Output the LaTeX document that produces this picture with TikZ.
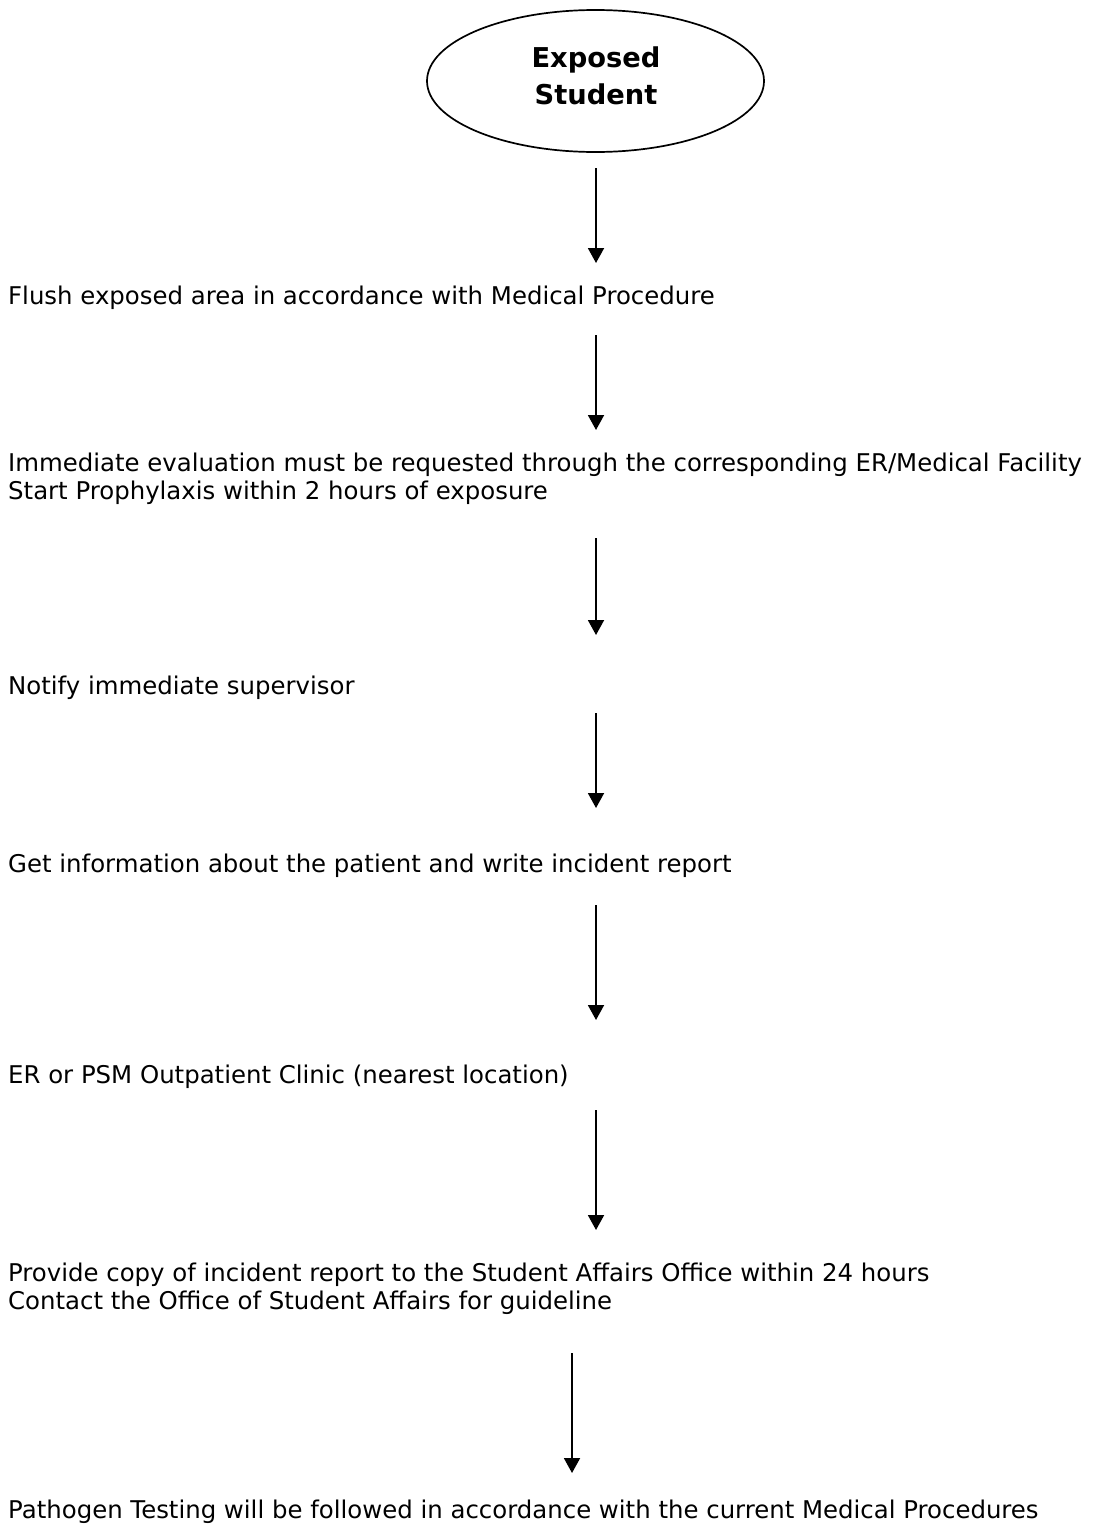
\documentclass[tikz,border=0pt]{standalone}
\usepackage{fontspec}
\setmainfont{DejaVu Sans}
\usetikzlibrary{arrows.meta,shapes.geometric}
\begin{document}
\begin{tikzpicture}[x=1pt,y=-1pt,
  steptext/.style={anchor=base west,inner sep=0pt,font=\fontsize{24.4}{28}\selectfont},
  arr/.style={line width=1.9pt,-{Triangle[width=16pt,length=15pt]}},
  startnode/.style={draw,line width=1.7pt,ellipse,minimum width=337pt,minimum height=142pt,inner sep=0pt},
  starttext/.style={anchor=center,inner sep=0pt,align=center,font=\bfseries\fontsize{27.3}{37}\selectfont}]
\useasboundingbox (0,0) rectangle (1094,1531);
\node[startnode] (s0) at (595.5,81) {};
\node[starttext] (s0t) at (596,76) {Exposed\\Student};
\node[steptext] (s1) at (8,304) {Flush exposed area in accordance with Medical Procedure};
\node[steptext] (s2a) at (8,471) {Immediate evaluation must be requested through the corresponding ER/Medical Facility};
\node[steptext] (s2b) at (8,499) {Start Prophylaxis within 2 hours of exposure};
\node[steptext] (s3) at (8,694) {Notify immediate supervisor};
\node[steptext] (s4) at (8,872) {Get information about the patient and write incident report};
\node[steptext] (s5) at (8,1083) {ER or PSM Outpatient Clinic (nearest location)};
\node[steptext] (s6a) at (8,1281) {Provide copy of incident report to the Student Affairs Office within 24 hours};
\node[steptext] (s6b) at (8,1309) {Contact the Office of Student Affairs for guideline};
\node[steptext] (s7) at (8,1518) {Pathogen Testing will be followed in accordance with the current Medical Procedures};
\coordinate (a1s) at (596,168); \coordinate (a1e) at (596,263);
\coordinate (a2s) at (596,335); \coordinate (a2e) at (596,430);
\coordinate (a3s) at (596,538); \coordinate (a3e) at (596,635);
\coordinate (a4s) at (596,713); \coordinate (a4e) at (596,808);
\coordinate (a5s) at (596,905); \coordinate (a5e) at (596,1020);
\coordinate (a6s) at (596,1110); \coordinate (a6e) at (596,1230);
\coordinate (a7s) at (572,1353); \coordinate (a7e) at (572,1473);
\draw[arr] (a1s) -- (a1e);
\draw[arr] (a2s) -- (a2e);
\draw[arr] (a3s) -- (a3e);
\draw[arr] (a4s) -- (a4e);
\draw[arr] (a5s) -- (a5e);
\draw[arr] (a6s) -- (a6e);
\draw[arr] (a7s) -- (a7e);
\end{tikzpicture}
\end{document}
